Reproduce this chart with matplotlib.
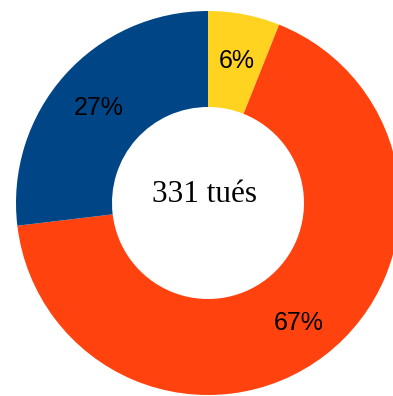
import matplotlib.pyplot as plt

# Répartition des tués
categories = ["A", "B", "C"]
valeurs = [20, 222, 89]
couleurs = ["#FFD320", "#FF420E", "#004586"]
total = sum(valeurs)

fig = plt.figure(figsize=(3.93, 3.96), dpi=100)
ax = fig.add_axes([0, 0, 1, 1])

wedges, textes, pct = ax.pie(
    valeurs,
    colors=couleurs,
    startangle=90,
    counterclock=False,
    radius=192,
    center=(208, 193),
    autopct=lambda p: f"{p:.0f}%",
    pctdistance=0.77,
    wedgeprops=dict(width=96, linewidth=0),
    textprops=dict(fontsize=18, family="Liberation Sans", color="black"),
)

# petits ajustements des étiquettes
for t in pct:
    x, y = t.get_position()
    t.set_position((x + 1, y - 3))

ax.text(205, 201, f"{total} tués", ha="center", va="center",
        fontsize=22.5, family="Liberation Serif", color="black")

ax.set_xlim(0, 393)
ax.set_ylim(0, 396)
ax.set_aspect("auto")
ax.axis("off")

fig.savefig("out.png", dpi=100)
